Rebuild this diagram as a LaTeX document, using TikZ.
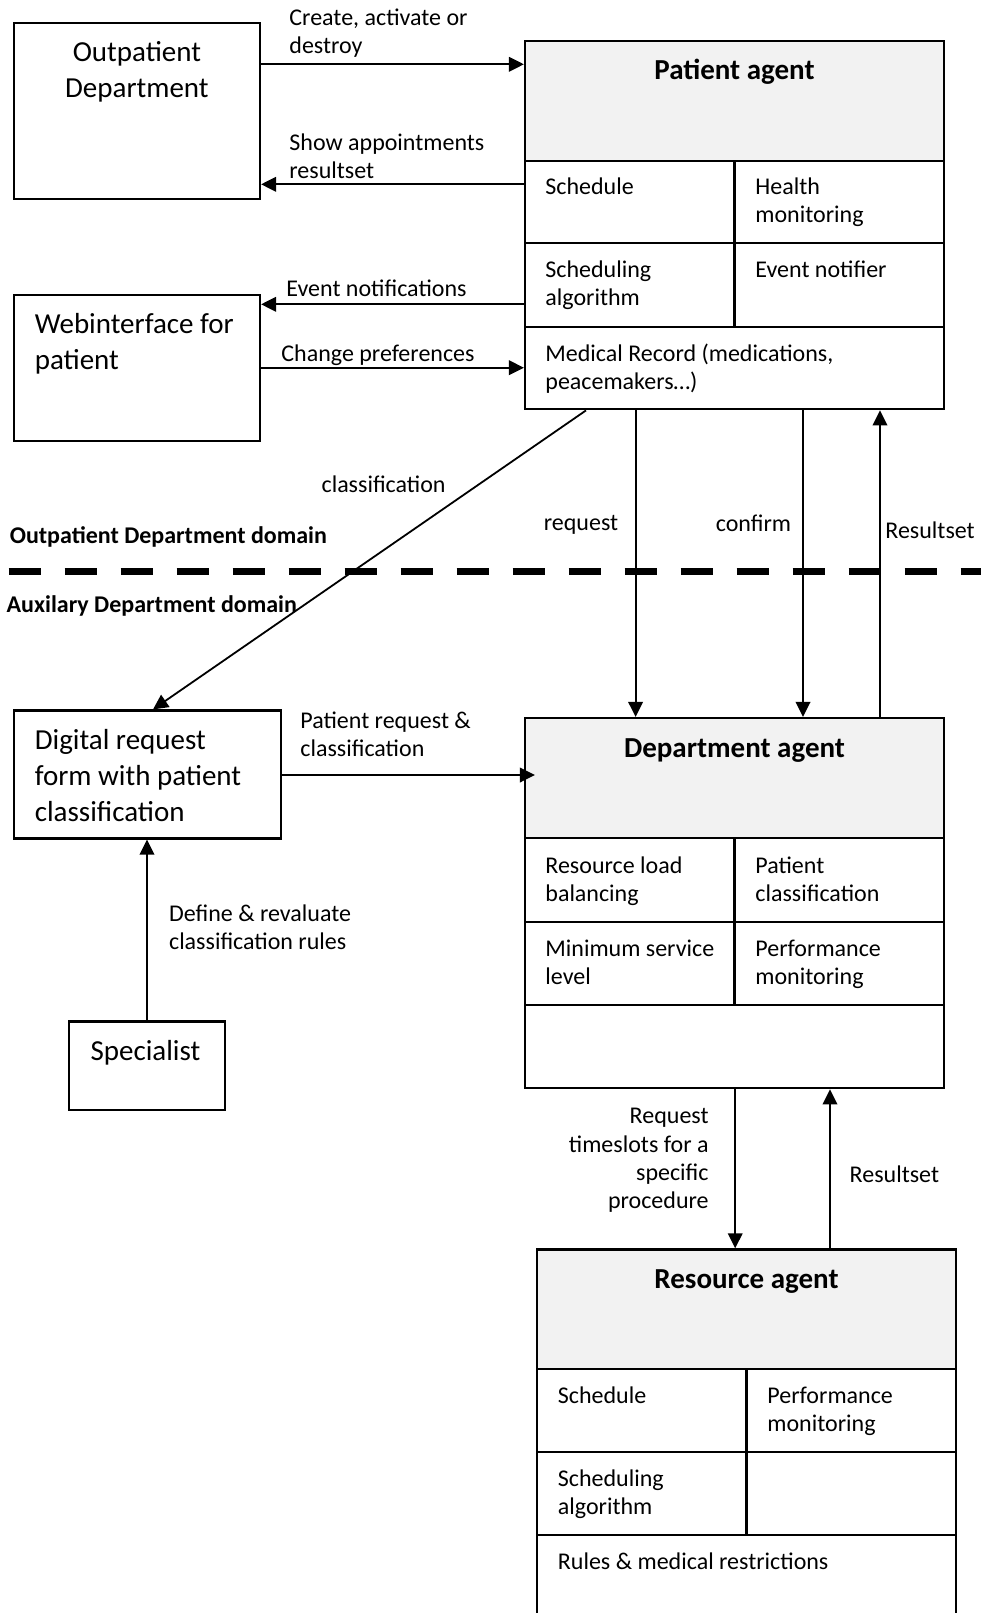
\documentclass[tikz,border=0pt]{standalone}
\usepackage{fontspec}
\setmainfont{Carlito}
\usetikzlibrary{arrows.meta,fit}
\definecolor{hdrgray}{HTML}{F2F2F2}
\begin{document}
\begin{tikzpicture}[x=0.5pt,y=-0.5pt,
  box/.style={draw, line width=1.1pt, inner sep=0pt},
  hdr/.style={box, fill=hdrgray},
  arr/.style={draw, line width=0.9pt, -{Triangle[length=7.5pt,width=7.3pt]}},
  % multi-line texts are placed by the baseline of their last line
  lbl/.style={font=\fontsize{12}{14.15}\selectfont, inner sep=0pt, align=left, anchor=base west},
  rlbl/.style={lbl, align=right, anchor=base east},
  clbl/.style={lbl, align=center, anchor=base},
  boxtxt/.style={font=\fontsize{14.5}{17.9}\selectfont, inner sep=0pt, align=center, anchor=base},
  lboxtxt/.style={boxtxt, align=left, anchor=base west},
  ttl/.style={font=\fontsize{14.5}{17}\selectfont\bfseries, inner sep=0pt, anchor=base},
  dom/.style={font=\fontsize{12}{14}\selectfont\bfseries, inner sep=0pt, anchor=base west}]
\useasboundingbox (0,0) rectangle (981,1613);
\clip (0,0) rectangle (981,1613);

% ---------- Outpatient side ----------
\node[box, fit={(13.7,22.7)(260,199)}] (od) {};
\node[boxtxt] (odt) at (136.9,97.5) {Outpatient\\Department};

\node[box, fit={(13.7,294.7)(260,440.7)}] (wi) {};
\node[lboxtxt] (wit) at (34.4,369) {Webinterface for\\patient};

% ---------- Patient agent ----------
\node[hdr, fit={(525,40.7)(944,160.7)}] (pah) {};
\node[box, fit={(525,160.7)(734.4,243.3)}] (pa11) {};
\node[box, fit={(734.4,160.7)(944,243.3)}] (pa12) {};
\node[box, fit={(525,243.3)(734.4,326.7)}] (pa21) {};
\node[box, fit={(734.4,243.3)(944,326.7)}] (pa22) {};
\node[box, fit={(525,326.7)(944,409.3)}] (pa3) {};
\node[box, fit={(525,40.7)(944,409.3)}] (pa) {};
\node[ttl] (pat) at (734.5,79) {Patient agent};
\node[lbl] (pa11t) at (545,194.5) {Schedule};
\node[lbl] (pa12t) at (755,222.8) {Health\\monitoring};
\node[lbl] (pa21t) at (545,305.8) {Scheduling\\algorithm};
\node[lbl] (pa22t) at (755,277.5) {Event notifier};
\node[lbl] (pa3t) at (545,389.3) {Medical Record (medications,\\peacemakers\dots)};

% ---------- Domain separator ----------
\coordinate (sepL) at (8.7,571.5);
\coordinate (sepR) at (981,571.5);
\draw[line width=3.65pt, dash pattern=on 16.25pt off 11.75pt] (sepL) -- (sepR);
\node[dom] (domA) at (9.4,543.2) {Outpatient Department domain};
\node[dom] (domB) at (6.3,612.2) {Auxilary Department domain};

% ---------- Digital request form & specialist ----------
\node[box, fit={(13.7,710.5)(281,838.5)}] (dig) {};
\node[lboxtxt] (digt) at (34.4,821) {Digital request\\form with patient\\classification};

\node[box, fit={(68.7,1021.5)(225,1110)}] (spec) {};
\node[boxtxt] (spect) at (145.5,1060) {Specialist};

% ---------- Department agent ----------
\node[hdr, fit={(525,718)(944,838.3)}] (dah) {};
\node[box, fit={(525,838.3)(734.4,921.7)}] (da11) {};
\node[box, fit={(734.4,838.3)(944,921.7)}] (da12) {};
\node[box, fit={(525,921.7)(734.4,1005)}] (da21) {};
\node[box, fit={(734.4,921.7)(944,1005)}] (da22) {};
\node[box, fit={(525,1005)(944,1088.3)}] (da3) {};
\node[box, fit={(525,718)(944,1088.3)}] (da) {};
\node[ttl] (dat) at (734.5,757.3) {Department agent};
\node[lbl] (da11t) at (545,901.3) {Resource load\\balancing};
\node[lbl] (da12t) at (755,901.3) {Patient\\classification};
\node[lbl] (da21t) at (545,984.6) {Minimum service\\level};
\node[lbl] (da22t) at (755,984.6) {Performance\\monitoring};

% ---------- Resource agent ----------
\node[hdr, fit={(536.8,1249.4)(956.3,1368.7)}] (rah) {};
\node[box, fit={(536.8,1368.7)(746.5,1452)}] (ra11) {};
\node[box, fit={(746.5,1368.7)(956.3,1452)}] (ra12) {};
\node[box, fit={(536.8,1452)(746.5,1535.3)}] (ra21) {};
\node[box, fit={(746.5,1452)(956.3,1535.3)}] (ra22) {};
\node[box, fit={(536.8,1535.3)(956.3,1640)}] (ra3) {};
\node[box, fit={(536.8,1249.4)(956.3,1640)}] (ra) {};
\node[ttl] (rat) at (746.5,1288.2) {Resource agent};
\node[lbl] (ra11t) at (557.5,1403.2) {Schedule};
\node[lbl] (ra12t) at (767,1431.5) {Performance\\monitoring};
\node[lbl] (ra21t) at (557.5,1514.8) {Scheduling\\algorithm};
\node[lbl] (ra3t) at (557.5,1569.5) {Rules \& medical restrictions};

% ---------- Connectors ----------
\draw[arr] (od.east |- 0,64.3) -- (pa.west |- 0,64.3);
\node[lbl] (l1) at (289,53.8) {Create, activate or\\destroy};

\draw[arr] (pa.west |- 0,184.3) -- (od.east |- 0,184.3);
\node[lbl] (l2) at (289,178.8) {Show appointments\\resultset};

\draw[arr] (pa.west |- 0,304.3) -- (wi.east |- 0,304.3);
\node[lbl] (l3) at (286,296.5) {Event notifications};

\draw[arr] (wi.east |- 0,367.7) -- (pa.west |- 0,367.7);
\node[lbl] (l4) at (281,361.2) {Change preferences};

\draw[arr] (pa.south -| 586,0) -- (dig.north -| 153,0);
\node[clbl] (l5) at (383.6,492.2) {classification};

\draw[arr] (pa.south -| 635.6,0) -- (da.north -| 635.6,0);
\node[clbl] (l6) at (581,530.5) {request};

\draw[arr] (pa.south -| 803,0) -- (da.north -| 803,0);
\node[clbl] (l7) at (753.5,531.2) {confirm};

\draw[arr] (da.north -| 880,0) -- (pa.south -| 880,0);
\node[lbl] (l8) at (885,538.8) {Resultset};

\draw[arr, shorten >=-5.5pt] (dig.east |- 0,775) -- (da.west |- 0,775);
\node[lbl] (l9) at (300,756.5) {Patient request \&\\classification};

\draw[arr] (spec.north -| 147,0) -- (dig.south -| 147,0);
\node[lbl] (l10) at (168.7,949.8) {Define \& revaluate\\classification rules};

\draw[arr] (da.south -| 735.2,0) -- (ra.north -| 735.2,0);
\node[rlbl] (l11) at (709,1208.8) {Request\\timeslots for a\\specific\\procedure};

\draw[arr] (ra.north -| 830,0) -- (da.south -| 830,0);
\node[lbl] (l12) at (849.3,1182.2) {Resultset};
\end{tikzpicture}
\end{document}
